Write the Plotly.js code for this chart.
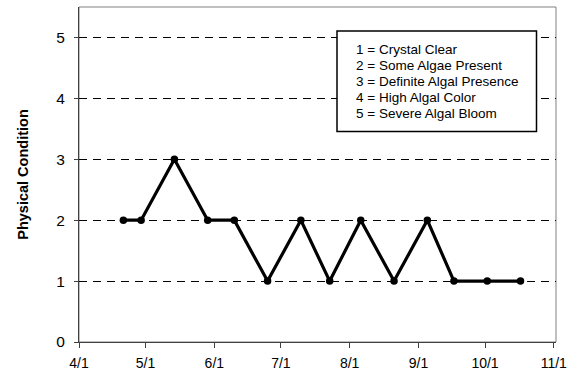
<!DOCTYPE html>
<html>
<head>
<meta charset="utf-8">
<script src="https://cdn.plot.ly/plotly-3.0.1.min.js"></script>
<style>html,body{margin:0;padding:0;background:#fff;}#chart{width:587px;height:379px;}</style>
</head>
<body>
<div id="chart"></div>
<script>
// Sampling dates and physical condition ratings
var dates = ['2000-04-21','2000-04-29','2000-05-14','2000-05-29','2000-06-10','2000-06-25',
             '2000-07-10','2000-07-23','2000-08-06','2000-08-21','2000-09-05','2000-09-17',
             '2000-10-02','2000-10-17'];
var condition = [2, 2, 3, 2, 2, 1, 2, 1, 2, 1, 2, 1, 1, 1];
var legendLines = ['1 = Crystal Clear', '2 = Some Algae Present', '3 = Definite Algal Presence',
                   '4 = High Algal Color', '5 = Severe Algal Bloom'];
var yTickVals = [0, 1, 2, 3, 4, 5];
var yTitle = 'Physical Condition';

var W = 587, H = 379;
var m = {l: 79, r: 31, t: 7, b: 37};
var pw = W - m.l - m.r, ph = H - m.t - m.b;
function px(x) { return (x - m.l) / pw; }
function py(y) { return (H - m.b - y) / ph; }

var font = 'Arial, "Liberation Sans", Helvetica, sans-serif';

var annotations = legendLines.map(function (t, i) {
  return {
    xref: 'paper', yref: 'paper', x: px(354), y: py(49.5 + i * 16),
    xanchor: 'left', yanchor: 'middle', showarrow: false, align: 'left',
    text: t, font: {family: font, size: 13.5, color: '#000'}
  };
});

var shapes = [
  {type: 'rect', xref: 'paper', yref: 'paper', x0: 0, x1: 1, y0: 0, y1: 1,
   line: {color: '#808080', width: 1}, layer: 'below'},
  {type: 'rect', xref: 'paper', yref: 'paper', x0: px(337), x1: px(536.5), y0: py(131.5), y1: py(31),
   line: {color: '#000', width: 1.5}, fillcolor: '#fff', layer: 'above'}
];

var trace = {
  x: dates, y: condition, type: 'scatter', mode: 'lines+markers',
  line: {color: '#000', width: 3.2},
  marker: {color: '#000', size: 7.5},
  showlegend: false, hoverinfo: 'skip'
};

var layout = {
  width: W, height: H, margin: m,
  paper_bgcolor: '#fff', plot_bgcolor: '#fff',
  showlegend: false,
  xaxis: {
    type: 'date', range: ['2000-04-01', '2000-11-02'],
    tick0: '2000-04-01', dtick: 'M1', tickformat: '%-m/%-d',
    showgrid: false, zeroline: false,
    showline: true, linecolor: '#404040', linewidth: 1,
    ticks: 'outside', ticklen: 5, tickcolor: '#404040', tickwidth: 1,
    ticklabelstandoff: 3,
    tickfont: {family: font, size: 14, color: '#000'},
    fixedrange: true
  },
  yaxis: {
    range: [0, 5.5], tickvals: yTickVals,
    showgrid: true, gridcolor: '#000', gridwidth: 1, griddash: '8px,6px',
    zeroline: false,
    showline: true, linecolor: '#404040', linewidth: 1,
    ticks: 'outside', ticklen: 4, tickcolor: '#404040', tickwidth: 1,
    ticklabelstandoff: 6,
    tickfont: {family: font, size: 15.5, color: '#000'},
    title: {text: '<b>' + yTitle + '</b>', font: {family: font, size: 14.5, color: '#000'}, standoff: 24},
    fixedrange: true
  },
  shapes: shapes,
  annotations: annotations
};

Plotly.newPlot('chart', [trace], layout, {displayModeBar: false, staticPlot: true});
</script>
</body>
</html>
